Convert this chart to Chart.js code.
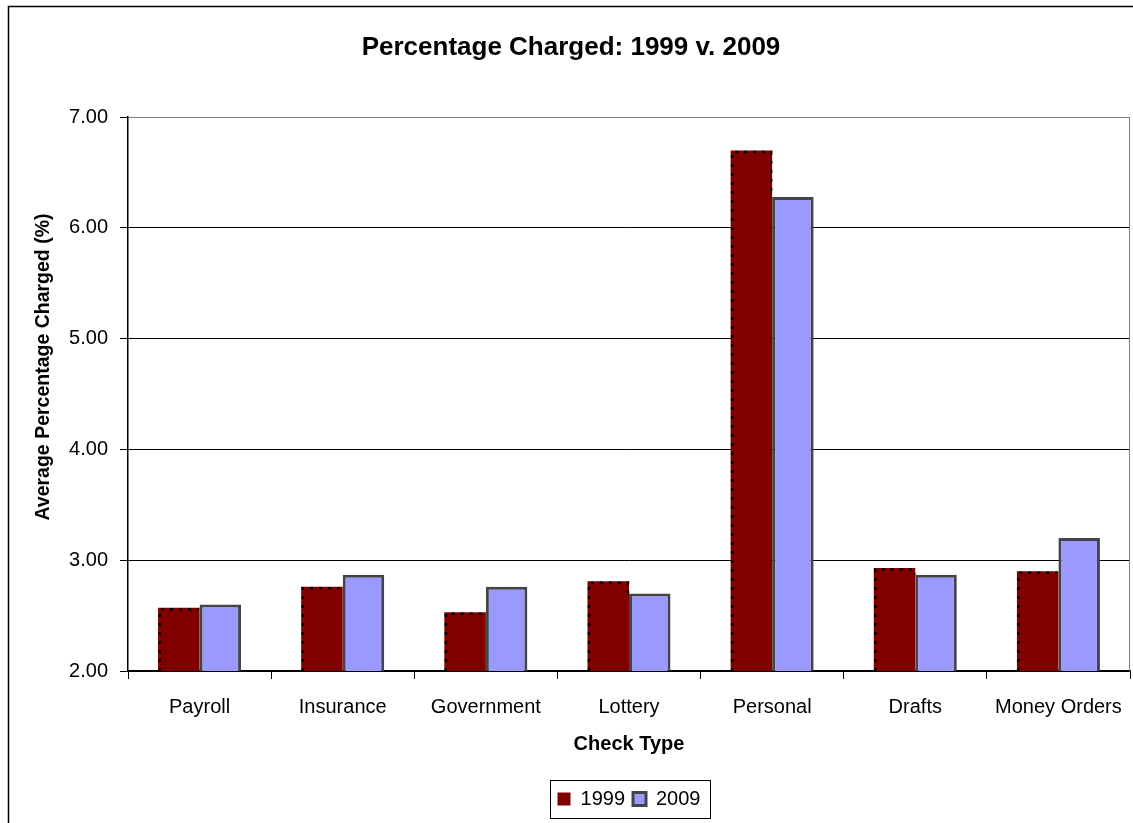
<!DOCTYPE html>
<html lang="en">
<head>
    <meta charset="UTF-8">
    <title>Percentage Charged: 1999 v. 2009</title>
    <script src="https://cdn.jsdelivr.net/npm/chart.js"></script>
    <style>
        body {
            margin: 0;
            background: #fff;
        }
        .wrap {
            width: 1133px;
            height: 823px;
            position: relative;
        }
    </style>
</head>
<body>

    <div class="wrap">
        <canvas id="checkChart"></canvas>
    </div>

    <script>
        // Data
        const checkTypes = ['Payroll', 'Insurance', 'Government', 'Lottery', 'Personal', 'Drafts', 'Money Orders'];
        const values1999 = [2.57, 2.76, 2.53, 2.81, 6.70, 2.93, 2.90];
        const values2009 = [2.60, 2.87, 2.76, 2.70, 6.28, 2.87, 3.20];
        const yTicks = [2, 3, 4, 5, 6, 7];
        const yTitle = 'Average Percentage Charged (%)';

        const fontFamily = '"Liberation Sans", Arial, sans-serif';

        // outer frame, plot right edge, y title, dotted 1999 borders, legend box
        const extrasPlugin = {
            id: 'extras',
            afterDatasetsDraw(chart) {
                const ctx = chart.ctx;
                const area = chart.chartArea;
                const m0 = chart.getDatasetMeta(0);
                const m1 = chart.getDatasetMeta(1);
                ctx.save();
                ctx.strokeStyle = '#000';
                ctx.lineWidth = 2.5;
                ctx.setLineDash([3, 6]);
                m0.data.forEach((bar, i) => {
                    const base = Math.min(bar.base, area.bottom);
                    const left = bar.x - bar.width / 2 + 1.5;
                    const right = bar.x + bar.width / 2 - 1;
                    const other = m1.data[i];
                    const rightEnd = Math.min(base, other.y);
                    ctx.beginPath();
                    ctx.moveTo(left, base);
                    ctx.lineTo(left, bar.y + 1.5);
                    ctx.lineTo(right, bar.y + 1.5);
                    if (rightEnd > bar.y) ctx.lineTo(right, rightEnd);
                    ctx.stroke();
                });
                ctx.restore();
            },
            afterDraw(chart) {
                const ctx = chart.ctx;
                const area = chart.chartArea;
                ctx.save();
                // right edge of plot area
                ctx.strokeStyle = '#808080';
                ctx.lineWidth = 1;
                ctx.beginPath();
                ctx.moveTo(area.right - 0.5, area.top);
                ctx.lineTo(area.right - 0.5, area.bottom);
                ctx.stroke();
                // outer frame
                ctx.strokeStyle = '#000';
                ctx.lineWidth = 1.5;
                ctx.strokeRect(8.5, 6.5, 1300, 1000);
                // y axis title
                ctx.fillStyle = '#000';
                ctx.font = 'bold 19.5px ' + fontFamily;
                ctx.textAlign = 'center';
                ctx.textBaseline = 'middle';
                ctx.translate(44, 367);
                ctx.rotate(-Math.PI / 2);
                ctx.fillText(yTitle, 0, 0);
                ctx.setTransform(1, 0, 0, 1, 0, 0);
                // legend frame
                const boxes = chart.legend.legendHitBoxes;
                if (boxes && boxes.length) {
                    const l = Math.min(...boxes.map(b => b.left)) - 8;
                    const r = Math.max(...boxes.map(b => b.left + b.width)) + 9;
                    ctx.lineWidth = 1;
                    ctx.strokeRect(Math.round(l) + 0.5, chart.legend.top - 0.5, Math.round(r - l), chart.legend.height);
                }
                ctx.restore();
            }
        };

        const config = {
            type: 'bar',
            data: {
                labels: checkTypes,
                datasets: [
                    {
                        label: '1999',
                        data: values1999,
                        backgroundColor: '#800000',
                        borderColor: '#000',
                        borderWidth: 0
                    },
                    {
                        label: '2009',
                        data: values2009,
                        backgroundColor: '#9999FF',
                        borderColor: '#444444',
                        borderWidth: 3,
                        borderSkipped: 'start'
                    }
                ]
            },
            options: {
                responsive: true,
                maintainAspectRatio: false,
                animation: false,
                devicePixelRatio: 1,
                categoryPercentage: 0.58,
                barPercentage: 1.0,
                layout: {
                    padding: { top: 0, right: 3, bottom: 4, left: 12 }
                },
                plugins: {
                    title: {
                        display: true,
                        text: 'Percentage Charged: 1999 v. 2009',
                        color: '#000',
                        font: { family: fontFamily, size: 26, weight: 'bold' },
                        padding: { top: 32, bottom: 54 }
                    },
                    legend: {
                        position: 'bottom',
                        fullSize: false,
                        labels: {
                            color: '#000',
                            font: { family: fontFamily, size: 20 },
                            boxWidth: 13,
                            boxHeight: 13,
                            padding: 8
                        }
                    },
                    tooltip: { enabled: false }
                },
                scales: {
                    x: {
                        grid: {
                            drawOnChartArea: false,
                            drawTicks: true,
                            tickLength: 8,
                            tickColor: '#000',
                            offset: true
                        },
                        border: { color: '#000', width: 1.5 },
                        ticks: {
                            color: '#000',
                            font: { family: fontFamily, size: 20 },
                            padding: 16,
                            maxRotation: 0,
                            autoSkip: false
                        },
                        title: {
                            display: true,
                            text: 'Check Type',
                            color: '#000',
                            font: { family: fontFamily, size: 20, weight: 'bold' },
                            padding: { top: 0, bottom: 25 }
                        },
                        afterFit(scale) {
                            scale.height = 110;
                            scale.paddingLeft = 0;
                            scale.paddingRight = 0;
                        }
                    },
                    y: {
                        min: 2,
                        max: 7,
                        afterBuildTicks(scale) {
                            scale.ticks = yTicks.map(v => ({ value: v }));
                        },
                        grid: {
                            color: (c) => c.tick && c.tick.value === 7 ? '#808080' : '#000',
                            tickColor: '#000',
                            tickLength: 8,
                            lineWidth: 1
                        },
                        border: { color: '#000', width: 1.5 },
                        ticks: {
                            color: '#000',
                            font: { family: fontFamily, size: 20 },
                            padding: 12,
                            callback: (v) => Number(v).toFixed(2)
                        },
                        afterFit(scale) {
                            scale.width = 116;
                        }
                    }
                }
            },
            plugins: [extrasPlugin]
        };

        const checkChart = new Chart(document.getElementById('checkChart'), config);
    </script>

</body>
</html>
